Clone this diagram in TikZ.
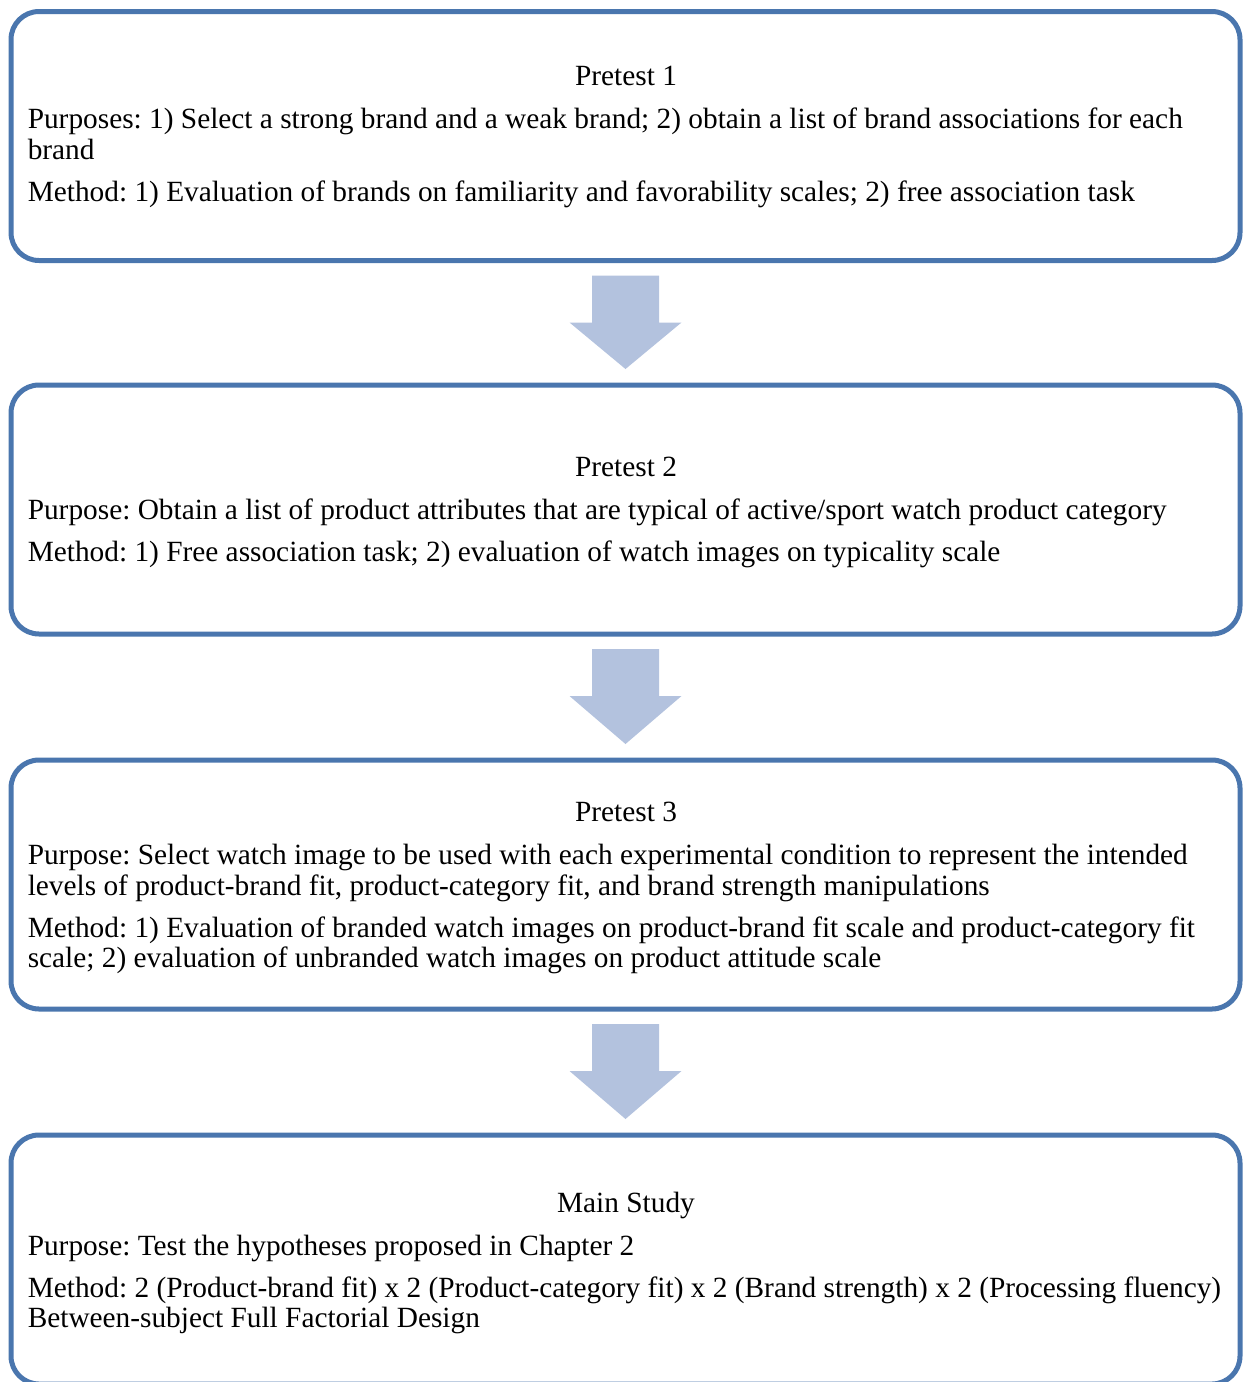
\documentclass[tikz,border=0pt]{standalone}
\usepackage{fontspec}
\setmainfont{Liberation Serif}
\usetikzlibrary{calc}
\definecolor{frameblue}{RGB}{74,118,174}
\definecolor{arrowfill}{RGB}{179,194,222}
% block arrow pointing down from the stage above (#1) to the stage below (#2)
\newcommand\flowarrow[2]{%
  \fill[arrowfill] ($(#1.south)+(-33.5,15)$) -- ($(#1.south)+(33.5,15)$)
    -- ($(#1.south)+(33.5,62)$) -- ($(#1.south)+(56,62)$)
    -- ($(#2.north)+(0,-16)$)
    -- ($(#1.south)+(-56,62)$) -- ($(#1.south)+(-33.5,62)$) -- cycle;}
\frenchspacing
\begin{document}
\begin{tikzpicture}[x=0.75pt,y=-0.75pt,
  stage/.style={draw=frameblue, line width=3.75pt, rounded corners=21pt,
    minimum width=921.75pt, minimum height=186.75pt, inner sep=0pt,
    outer sep=0pt, fill=white},
  txt/.style={inner sep=0pt, font=\fontsize{22}{23.25}\selectfont},
  line/.style={txt, anchor=base west},
  title/.style={txt, anchor=base}]
\useasboundingbox (0,0) rectangle (1244,1382);
\begin{scope}
\clip (0,0) rectangle (1244,1382);
\node[stage] (s1) at (625.5,136) {};
\node[stage] (s2) at (625.5,509.5) {};
\node[stage] (s3) at (625.5,884.5) {};
\node[stage] (s4) at (625.5,1259.5) {};
\end{scope}

\flowarrow{s1}{s2}
\flowarrow{s2}{s3}
\flowarrow{s3}{s4}

% Pretest 1
\node[title] (t1) at (626,85) {Pretest 1};
\node[line] (t1a) at (27.5,128) {Purposes: 1) Select a strong brand and a weak brand; 2) obtain a list of brand associations for each};
\node[line] (t1b) at (27.5,159) {brand};
\node[line] (t1c) at (27.5,201) {Method: 1) Evaluation of brands on familiarity and favorability scales; 2) free association task};

% Pretest 2
\node[title] (t2) at (626,476) {Pretest 2};
\node[line] (t2a) at (27.5,519) {Purpose: Obtain a list of product attributes that are typical of active/sport watch product category};
\node[line] (t2b) at (27.5,561) {Method: 1) Free association task; 2) evaluation of watch images on typicality scale};

% Pretest 3
\node[title] (t3) at (626,821) {Pretest 3};
\node[line] (t3a) at (27.5,864) {Purpose: Select watch image to be used with each experimental condition to represent the intended};
\node[line] (t3b) at (27.5,895) {levels of product-brand fit, product-category fit, and brand strength manipulations};
\node[line] (t3c) at (27.5,937) {Method: 1) Evaluation of branded watch images on product-brand fit scale and product-category fit};
\node[line] (t3d) at (27.5,967) {scale; 2) evaluation of unbranded watch images on product attitude scale};

% Main study
\node[title] (t4) at (626,1212) {Main Study};
\node[line] (t4a) at (27.5,1255) {Purpose: Test the hypotheses proposed in Chapter 2};
\node[line] (t4b) at (27.5,1297) {Method: 2 (Product-brand fit) x 2 (Product-category fit) x 2 (Brand strength) x 2 (Processing fluency)};
\node[line] (t4c) at (27.5,1327) {Between-subject Full Factorial Design};
\end{tikzpicture}
\end{document}
